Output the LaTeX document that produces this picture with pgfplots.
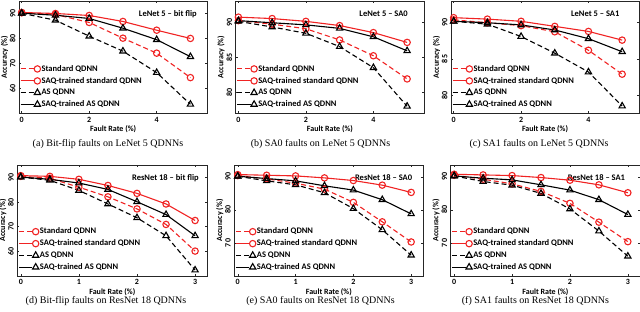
\documentclass[border=0pt]{standalone}
\usepackage{fontspec}
\setmainfont{Liberation Serif}
\newfontfamily\carlito{Carlito}
\usepackage{pgfplots}
\pgfplotsset{compat=1.18}
\definecolor{myred}{RGB}{240,35,35}
\newcommand{\axfont}{\carlito\bfseries\fontsize{8}{9}\selectfont}
\newcommand{\lgfont}{\carlito\bfseries\fontsize{8.5}{10}\selectfont}
\pgfplotsset{
 qd/.style={
  scale only axis, anchor=south west,
  font=\axfont,
  /pgf/number format/assume math mode=true,
  tick align=inside, major tick length=2pt,
  axis line style={black!85, line width=0.5pt},
  every tick/.style={black!85, line width=0.5pt},
  yticklabel style={rotate=90, anchor=south, font=\axfont},
  xticklabel style={font=\axfont},
  xlabel={Fault Rate (\%)}, ylabel={Accuracy (\%)},
  xlabel style={font=\axfont, yshift=3pt},
  ylabel style={font=\axfont, yshift=-5pt},
  legend style={draw=none, fill=none, at={(rel axis cs:0.005,0.035)}, anchor=south west,
    font=\lgfont, row sep=2.5pt, inner sep=0pt, nodes={inner sep=1pt}},
  legend cell align=left,
  legend image code/.code={\draw[##1, mark=none] (0pt,0pt) -- (13.4pt,0pt);
     \path[##1] plot coordinates {(16.7pt,0pt)};},
 },
 r1/.style={qd, width=188.3pt, height=112.3pt, xmin=-0.08, xmax=5.5, xtick={0,2,4}},
 r2/.style={qd, height=111pt, xmin=-0.06, xmax=3.21, xtick={0,1,2,3}},
 std/.style={myred, line width=1.1pt, dash pattern=on 5pt off 3pt, mark=o, mark size=3.2pt, mark options={solid}},
 saqstd/.style={myred, line width=1.1pt, solid, mark=o, mark size=3.2pt, mark options={solid}},
 as/.style={black, line width=1.1pt, dash pattern=on 5pt off 3pt, mark=triangle, mark size=3.6pt, mark options={solid}},
 saqas/.style={black, line width=1.1pt, solid, mark=triangle, mark size=3.6pt, mark options={solid}},
}
\newcommand{\ttl}[2]{\node[anchor=east, font=\lgfont, inner sep=0pt] at (rel axis cs:#1,0.884) {#2};}
\begin{document}
\begin{tikzpicture}[x=1pt,y=1pt]
\useasboundingbox (0,0) rectangle (640,311);
% (a)
\begin{axis}[r1, at={(19pt,197.7pt)}, ymin=50, ymax=95, ytick={60,70,80,90}]
\addplot[std] coordinates {(0,90.3)(1,89.6)(2,86.4)(3,80.1)(4,74.1)(5,64.3)};
\addplot[saqstd] coordinates {(0,90.4)(1,90.0)(2,89.2)(3,86.8)(4,83.3)(5,80.0)};
\addplot[as] coordinates {(0,90.1)(1,87.3)(2,80.9)(3,74.9)(4,66.3)(5,53.6)};
\addplot[saqas] coordinates {(0,90.1)(1,89.3)(2,88.0)(3,84.1)(4,79.5)(5,72.7)};
\legend{Standard QDNN, SAQ-trained standard QDNN, AS QDNN, SAQ-trained AS QDNN}
\ttl{0.945}{LeNet 5 – bit flip}
\end{axis}
% (b)
\begin{axis}[r1, at={(235.7pt,197.7pt)}, ymin=77, ymax=93, ytick={80,85,90}]
\addplot[std] coordinates {(0,90.2)(1,89.7)(2,89.05)(3,87.45)(4,85.2)(5,81.9)};
\addplot[saqstd] coordinates {(0,90.7)(1,90.5)(2,90.1)(3,89.5)(4,88.5)(5,87.1)};
\addplot[as] coordinates {(0,90.1)(1,89.3)(2,88.4)(3,86.5)(4,83.5)(5,78.0)};
\addplot[saqas] coordinates {(0,90.2)(1,89.9)(2,89.6)(3,89.1)(4,87.9)(5,85.9)};
\legend{Standard QDNN, SAQ-trained standard QDNN, AS QDNN, SAQ-trained AS QDNN}
\ttl{0.915}{LeNet 5 – SA0}
\end{axis}
% (c)
\begin{axis}[r1, width=188pt, at={(451pt,197.7pt)}, ymin=77.5, ymax=93, ytick={80,85,90}]
\addplot[std] coordinates {(0,90.4)(1,90.0)(2,89.6)(3,88.75)(4,86.2)(5,82.9)};
\addplot[saqstd] coordinates {(0,90.7)(1,90.5)(2,90.2)(3,89.5)(4,88.8)(5,87.6)};
\addplot[as] coordinates {(0,90.2)(1,89.8)(2,88.1)(3,85.8)(4,83.2)(5,78.5)};
\addplot[saqas] coordinates {(0,90.2)(1,90.0)(2,89.7)(3,89.0)(4,87.8)(5,86.0)};
\legend{Standard QDNN, SAQ-trained standard QDNN, AS QDNN, SAQ-trained AS QDNN}
\ttl{0.897}{LeNet 5 – SA1}
\end{axis}
% (d)
\begin{axis}[r2, width=190pt, at={(17.3pt,35pt)}, ymin=50, ymax=95, ytick={60,70,80,90}]
\addplot[std] coordinates {(0,90.4)(0.5,89.6)(1,86.0)(1.5,82.1)(2,77.2)(2.5,70.9)(3,60.1)};
\addplot[saqstd] coordinates {(0,90.7)(0.5,90.4)(1,89.2)(1.5,86.7)(2,83.5)(2.5,79.2)(3,72.5)};
\addplot[as] coordinates {(0,90.1)(0.5,88.8)(1,84.7)(1.5,79.2)(2,73.6)(2.5,66.3)(3,52.4)};
\addplot[saqas] coordinates {(0,90.1)(0.5,89.2)(1,87.7)(1.5,85.1)(2,80.1)(2.5,74.9)(3,66.3)};
\legend{Standard QDNN, SAQ-trained standard QDNN, AS QDNN, SAQ-trained AS QDNN}
\ttl{0.956}{ResNet 18 – bit flip}
\end{axis}
% (e)
\begin{axis}[r2, width=189pt, at={(234.3pt,35pt)}, ymin=60, ymax=93.6, ytick={70,80,90}]
\addplot[std] coordinates {(0,90.4)(0.5,89.4)(1,88.1)(1.5,86.3)(2,82.3)(2.5,76.4)(3,70.3)};
\addplot[saqstd] coordinates {(0,90.7)(0.5,90.5)(1,90.3)(1.5,89.7)(2,88.9)(2.5,87.5)(3,85.3)};
\addplot[as] coordinates {(0,90.2)(0.5,88.8)(1,87.6)(1.5,85.2)(2,80.4)(2.5,74.0)(3,66.3)};
\addplot[saqas] coordinates {(0,90.2)(0.5,89.5)(1,88.8)(1.5,87.3)(2,86.0)(2.5,83.1)(3,78.8)};
\legend{Standard QDNN, SAQ-trained standard QDNN, AS QDNN, SAQ-trained AS QDNN}
\ttl{0.942}{ResNet 18 – SA0}
\end{axis}
% (f)
\begin{axis}[r2, width=189.3pt, at={(450.7pt,35pt)}, ymin=60, ymax=93.6, ytick={70,80,90}]
\addplot[std] coordinates {(0,90.5)(0.5,89.3)(1,87.9)(1.5,85.6)(2,82.0)(2.5,76.3)(3,70.4)};
\addplot[saqstd] coordinates {(0,90.8)(0.5,90.6)(1,90.4)(1.5,89.8)(2,89.0)(2.5,87.6)(3,85.2)};
\addplot[as] coordinates {(0,90.3)(0.5,88.6)(1,87.5)(1.5,85.0)(2,80.3)(2.5,73.6)(3,66.0)};
\addplot[saqas] coordinates {(0,90.3)(0.5,89.6)(1,89.1)(1.5,87.6)(2,86.0)(2.5,83.1)(3,78.6)};
\legend{Standard QDNN, SAQ-trained standard QDNN, AS QDNN, SAQ-trained AS QDNN}
\ttl{0.922}{ResNet 18 – SA1}
\end{axis}
% captions
\begin{scope}[every node/.style={font=\fontsize{10}{12}\selectfont, inner sep=0pt}]
\node at (108,167) {(a) Bit-flip faults on LeNet 5 QDNNs};
\node at (320.5,167) {(b) SA0 faults on LeNet 5 QDNNs};
\node at (539,167) {(c) SA1 faults on LeNet 5 QDNNs};
\node at (106,10) {(d) Bit-flip faults on ResNet 18 QDNNs};
\node at (320.5,10) {(e) SA0 faults on ResNet 18 QDNNs};
\node at (535.5,10) {(f) SA1 faults on ResNet 18 QDNNs};
\end{scope}
\end{tikzpicture}
\end{document}
